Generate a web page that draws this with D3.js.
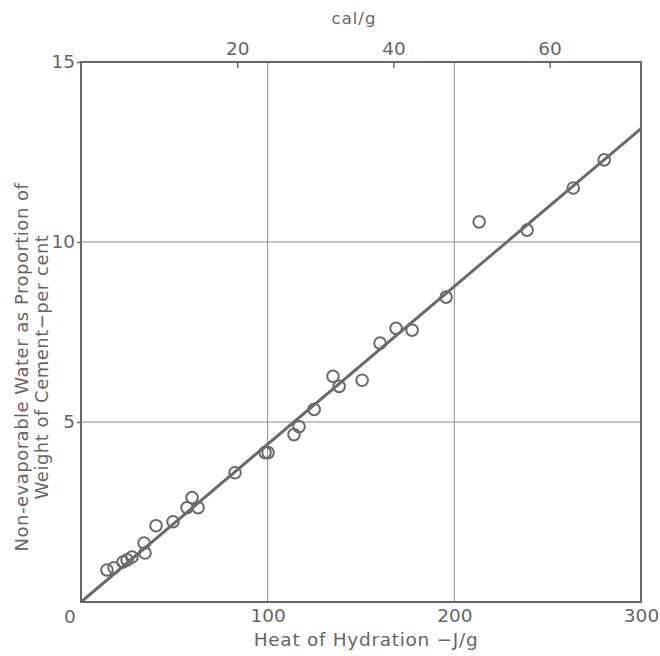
<!DOCTYPE html>
<html>
<head>
<meta charset="utf-8">
<script src="https://cdn.jsdelivr.net/npm/d3@7"></script>
<style>
body { margin: 0; background: #fff; }
text { font-family: "DejaVu Sans", sans-serif; fill: #666; }
</style>
</head>
<body>
<div id="chart"></div>
<script>
// heat of hydration (J/g)
var heatJ = [13.9, 17.7, 22.5, 24.7, 27.3, 33.8, 34.3, 40.2, 49.3, 56.8, 59.5, 62.7,
             82.5, 98.6, 100.2, 114.1, 116.8, 124.9, 135.0, 138.3, 150.6, 160.2,
             168.8, 177.4, 195.6, 213.3, 239.0, 263.7, 280.3];
// non-evaporable water, per cent of cement weight
var water = [0.89, 0.95, 1.11, 1.17, 1.25, 1.64, 1.36, 2.12, 2.23, 2.62, 2.90, 2.62,
             3.59, 4.15, 4.15, 4.65, 4.87, 5.35, 6.27, 5.99, 6.16, 7.19,
             7.60, 7.55, 8.47, 10.56, 10.33, 11.50, 12.28];
var fitLine = [[0, 0], [300, 13.15]];
var xTicks = [100, 200, 300];
var yTicks = [5, 10, 15];
var calTicks = [20, 40, 60];
var gridX = [100, 200];
var gridY = [5, 10];

var W = 660, H = 656;
var M = {left: 81, right: 19, top: 62, bottom: 54};
var JPERCAL = 4.184;
var FONT = '"DejaVu Sans", sans-serif';
var INK = '#666';

var svg = d3.select('#chart').append('svg')
    .attr('width', W)
    .attr('height', H);

var x = d3.scaleLinear().domain([0, 300]).range([M.left, W - M.right]);
var y = d3.scaleLinear().domain([0, 15]).range([H - M.bottom, M.top]);

// grid
svg.selectAll('.gx').data(gridX).enter().append('line')
    .attr('x1', function(d) { return x(d); })
    .attr('x2', function(d) { return x(d); })
    .attr('y1', y(0)).attr('y2', y(15))
    .attr('stroke', '#8a8a8a').attr('stroke-width', 1);
svg.selectAll('.gy').data(gridY).enter().append('line')
    .attr('y1', function(d) { return y(d); })
    .attr('y2', function(d) { return y(d); })
    .attr('x1', x(0)).attr('x2', x(300))
    .attr('stroke', '#8a8a8a').attr('stroke-width', 1);

// axes
var bottomAx = svg.append('g')
    .attr('transform', 'translate(0,' + y(0) + ')')
    .call(d3.axisBottom(x).tickValues(xTicks).tickSize(0).tickPadding(7));
var leftAx = svg.append('g')
    .attr('transform', 'translate(' + x(0) + ',0)')
    .call(d3.axisLeft(y).tickValues(yTicks).tickSize(4).tickPadding(2));
var topAx = svg.append('g')
    .attr('transform', 'translate(0,' + y(15) + ')')
    .call(d3.axisTop(x).tickValues(calTicks.map(function(c) { return c * JPERCAL; }))
        .tickFormat(function(d) { return Math.round(d / JPERCAL); })
        .tickSize(-6).tickPadding(7));
[bottomAx, leftAx, topAx].forEach(function(g) {
    g.select('.domain').remove();
    g.selectAll('line').attr('stroke', '#6a6a6a').attr('stroke-width', 1.5);
    g.selectAll('text').attr('font-size', 18.5).attr('fill', INK)
        .attr('font-family', FONT);
});

// shared origin label
svg.append('text')
    .attr('x', x(0) - 11).attr('y', y(0) + 21)
    .attr('text-anchor', 'middle')
    .attr('font-size', 18.5)
    .text('0');

// frame
svg.append('rect')
    .attr('x', x(0)).attr('y', y(15))
    .attr('width', x(300) - x(0)).attr('height', y(0) - y(15))
    .attr('fill', 'none').attr('stroke', '#666').attr('stroke-width', 2);

// fitted line
svg.append('line')
    .attr('x1', x(fitLine[0][0])).attr('y1', y(fitLine[0][1]))
    .attr('x2', x(fitLine[1][0])).attr('y2', y(fitLine[1][1]))
    .attr('stroke', '#6a6a6a').attr('stroke-width', 3);

// points
svg.selectAll('.pt').data(heatJ).enter().append('circle')
    .attr('cx', function(d) { return x(d); })
    .attr('cy', function(d, i) { return y(water[i]); })
    .attr('r', 5.8)
    .attr('fill', 'none')
    .attr('stroke', '#6a6a6a')
    .attr('stroke-width', 2);

// titles
svg.append('text')
    .attr('x', 366).attr('y', H - 10)
    .attr('text-anchor', 'middle')
    .attr('font-size', 18.5)
    .attr('letter-spacing', 0.7)
    .text('Heat of Hydration \u2212J/g');
svg.append('text')
    .attr('x', 354).attr('y', 24)
    .attr('text-anchor', 'middle')
    .attr('font-size', 16.5)
    .attr('letter-spacing', 1)
    .text('cal/g');
var yt = svg.append('text')
    .attr('transform', 'translate(28,367) rotate(-90)')
    .attr('text-anchor', 'middle')
    .attr('font-size', 18)
    .attr('letter-spacing', 0.5);
yt.append('tspan').attr('x', 0).attr('dy', 0).text('Non-evaporable Water as Proportion of');
yt.append('tspan').attr('x', 0).attr('dy', 20).text('Weight of Cement\u2212per cent');
</script>
</body>
</html>
